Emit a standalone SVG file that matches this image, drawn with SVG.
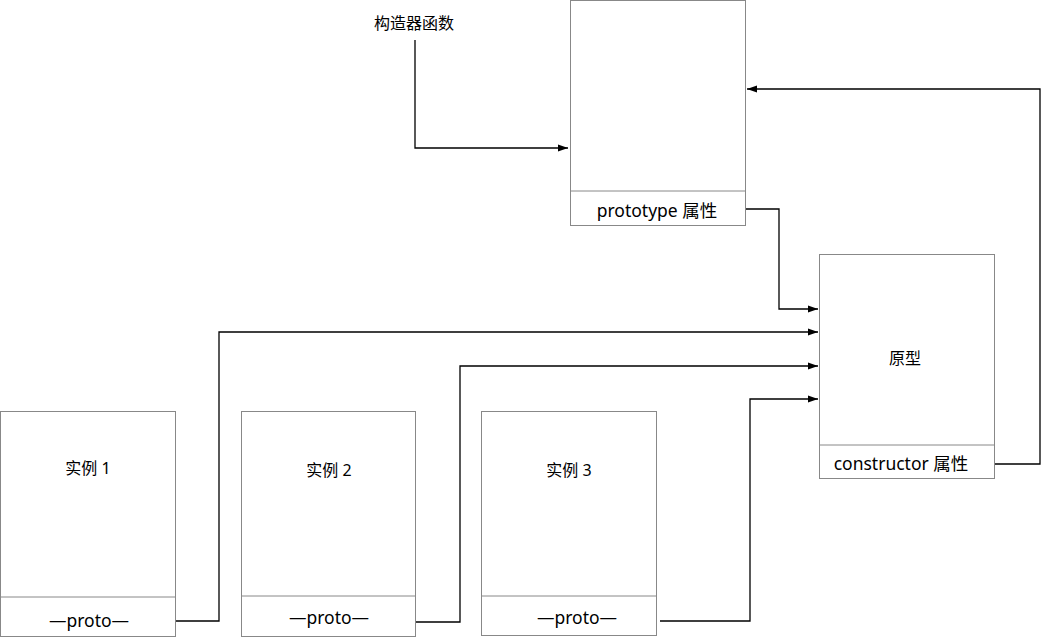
<svg xmlns="http://www.w3.org/2000/svg" width="1041" height="638" viewBox="0 0 1041 638">
<style>
.box{fill:#fff;stroke:#888;stroke-width:1}
.div{stroke:#888;stroke-width:1}
text{font-family:"Noto Sans","Noto Sans CJK SC",sans-serif;font-size:16px;fill:#000;text-anchor:middle;dominant-baseline:central}
.l{font-size:17.5px}
.c{fill:none;stroke:#000;stroke-width:1.3}
</style>
<defs>
<marker id="ah" viewBox="0 0 10 10" refX="10" refY="5" markerWidth="10" markerHeight="10" markerUnits="userSpaceOnUse" orient="auto">
<path d="M0,1.5 L10,5 L0,8.5 Z" fill="#000"/>
</marker>
</defs>
<rect width="1041" height="638" fill="#fff"/>
<g id="label-ctor"><text x="414" y="23">构造器函数</text></g>
<g id="ctor">
<rect class="box" x="570.5" y="0.5" width="175" height="225"/>
<line class="div" x1="570.5" y1="191" x2="745.5" y2="191"/>
<text class="l" x="657" y="210">prototype 属性</text>
</g>
<g id="proto">
<rect class="box" x="819.5" y="254.5" width="175" height="224"/>
<line class="div" x1="819.5" y1="445" x2="994.5" y2="445"/>
<text x="905" y="358">原型</text>
<text class="l" x="901" y="463">constructor 属性</text>
</g>
<g id="inst1">
<rect class="box" x="0.5" y="411.5" width="175" height="225"/>
<line class="div" x1="0.5" y1="597" x2="175.5" y2="597"/>
<text x="88" y="468">实例 1</text>
<text class="l" x="89" y="620">—proto—</text>
</g>
<g id="inst2">
<rect class="box" x="241.5" y="411.5" width="174" height="225"/>
<line class="div" x1="241.5" y1="596" x2="415.5" y2="596"/>
<text x="329" y="470">实例 2</text>
<text class="l" x="329" y="617">—proto—</text>
</g>
<g id="inst3">
<rect class="box" x="481.5" y="411.5" width="175" height="224"/>
<line class="div" x1="481.5" y1="596" x2="656.5" y2="596"/>
<text x="569" y="470">实例 3</text>
<text class="l" x="577" y="617">—proto—</text>
</g>
<g id="connectors">
<path class="c" d="M415,40 V148 H568" marker-end="url(#ah)"/>
<path class="c" d="M746,209 H779 V309 H818" marker-end="url(#ah)"/>
<path class="c" d="M995,464 H1040 V89 H747" marker-end="url(#ah)"/>
<path class="c" d="M176,621 H219 V332 H818" marker-end="url(#ah)"/>
<path class="c" d="M416,622 H460 V366 H818" marker-end="url(#ah)"/>
<path class="c" d="M660,621 H750 V399 H818" marker-end="url(#ah)"/>
</g>
</svg>
